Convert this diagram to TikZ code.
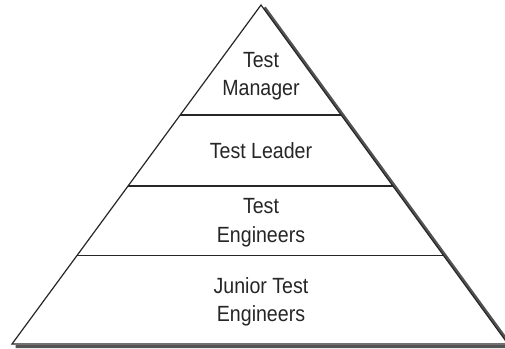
\documentclass[tikz,border=0pt]{standalone}
\usepackage{fontspec}
\setmainfont{Liberation Sans}[FakeStretch=0.89]
\usetikzlibrary{calc}
\begin{document}
\begin{tikzpicture}[x=1pt,y=1pt,
  lbl/.style={anchor=base,inner sep=0pt,font=\fontsize{22}{26}\selectfont,text=black!85},
  edge/.style={line width=1.2pt,black!85}]
\useasboundingbox (0,0) rectangle (505,348);
\clip (0,0) rectangle (505,348);
\coordinate (A) at (261,343);
\coordinate (L) at (12,4);
\coordinate (R) at (508,4);
% shadow
\draw[gray!65!black,line width=3pt] ([shift={(3.5,-2.5)}]A) -- ([shift={(3.5,-2.5)}]R) -- ([shift={(3.5,-2.5)}]L);
% triangle
\fill[white] (A) -- (R) -- (L) -- cycle;
\draw[edge] (A) -- (R) -- (L) -- cycle;
% horizontal dividers
\coordinate (l1) at ($(A)!0.3245!(L)$);
\coordinate (r1) at ($(A)!0.3245!(R)$);
\coordinate (l2) at ($(A)!0.5339!(L)$);
\coordinate (r2) at ($(A)!0.5339!(R)$);
\coordinate (l3) at ($(A)!0.7389!(L)$);
\coordinate (r3) at ($(A)!0.7389!(R)$);
\draw[edge] (l1) -- (r1);
\draw[edge] (l2) -- (r2);
\draw[edge] (l3) -- (r3);
% labels
\node[lbl] (m1) at (261,280) {Test};
\node[lbl] (m2) at (261,252) {Manager};
\node[lbl] (tl) at (261,189) {Test Leader};
\node[lbl] (e1) at (261,134) {Test};
\node[lbl] (e2) at (261,106) {Engineers};
\node[lbl] (j1) at (261,55) {Junior Test};
\node[lbl] (j2) at (261,27) {Engineers};
\end{tikzpicture}
\end{document}
